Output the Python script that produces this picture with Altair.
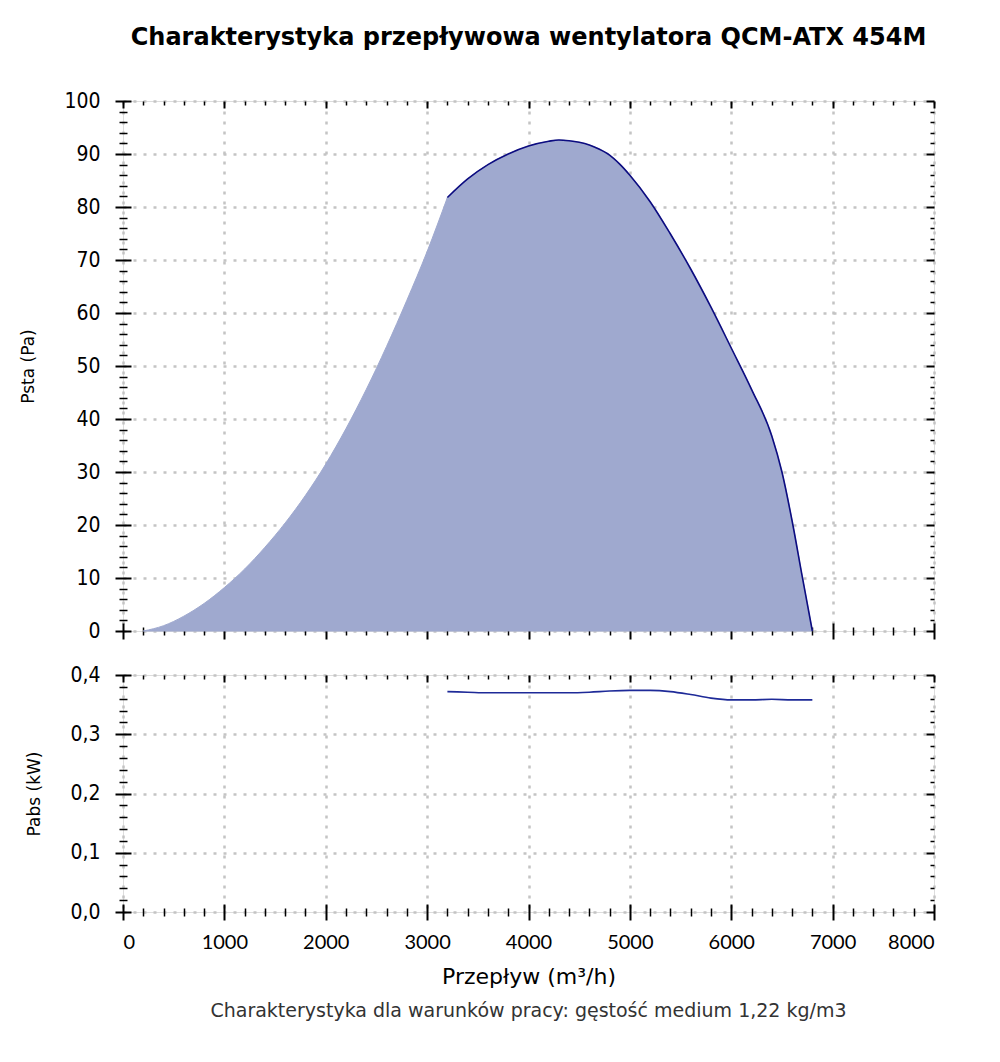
import altair as alt
import pandas as pd

# ---- data ----
flow_rise = [200, 400, 600, 800, 1000, 1200, 1400, 1600, 1800, 2000, 2200, 2400, 2600, 2800, 3000, 3200]
psta_rise = [0.0, 1.0, 2.8, 5.2, 8.2, 11.7, 15.8, 20.4, 25.6, 31.5, 38.2, 45.6, 53.7, 62.4, 71.6, 81.8]

flow_fall = [3200, 3400, 3600, 3800, 4000, 4200, 4300, 4400, 4500, 4600, 4700, 4800, 4900, 5000, 5200,
             5400, 5600, 5800, 6000, 6200, 6400, 6500, 6600, 6700, 6800]
psta_fall = [81.8, 85.3, 88.0, 90.0, 91.5, 92.4, 92.65, 92.5, 92.2, 91.7, 90.9, 89.8, 88.1, 86.0, 81.0,
             74.9, 68.3, 61.1, 53.4, 45.6, 36.8, 30.0, 20.8, 10.3, 0.0]

flow_power = [3200, 3400, 3600, 3800, 4000, 4200, 4400, 4600, 4800, 5000, 5200, 5400, 5600, 5800,
              6000, 6200, 6400, 6600, 6800]
pabs_power = [0.372, 0.371, 0.370, 0.370, 0.370, 0.370, 0.370, 0.371, 0.373, 0.374, 0.374, 0.372,
              0.367, 0.361, 0.358, 0.358, 0.359, 0.358, 0.358]

x_major = [0, 1000, 2000, 3000, 4000, 5000, 6000, 7000, 8000]
x_minor = [v for v in range(0, 8001, 200) if v % 1000]
y1_major = [0, 10, 20, 30, 40, 50, 60, 70, 80, 90, 100]
y1_minor = [v for v in range(0, 101, 2) if v % 10]
y2_major = [0.0, 0.1, 0.2, 0.3, 0.4]
y2_minor = [round(i * 0.02, 2) for i in range(21) if i % 5]

title_text = "Charakterystyka przepływowa wentylatora QCM-ATX 454M"
foot_text = "Charakterystyka dla warunków pracy: gęstość medium 1,22 kg/m3"

# ---- tables ----
area_df = pd.DataFrame({
    "flow": flow_rise + flow_fall,
    "psta": psta_rise + psta_fall,
    "seg": ["a"] * len(flow_rise) + ["b"] * len(flow_fall),
})
line_df = pd.DataFrame({"flow": flow_fall, "psta": psta_fall})
power_df = pd.DataFrame({"flow": flow_power, "pabs": pabs_power})

FILL = "#9fa9cf"
LINE_TOP = "#0c0c80"
LINE_BOT = "#1e2a98"
GRID = "#c4c4c4"
YFONT = "DejaVu Sans Condensed, DejaVu Sans"
XFONT = "Lato"

W = 811
H1 = 530
H2 = 237


def axis(orient, values, size, cross, width, labels=False, grid=False, title=None, **kw):
    offset = -size / 2 if cross else -size
    return alt.Axis(orient=orient, values=values, tickSize=size, offset=offset, domain=False,
                    labels=labels, grid=grid, title=title, tickColor="black", tickWidth=width,
                    gridColor=GRID, gridDash=[3, 7], gridWidth=2.5, **kw)


xscale = alt.Scale(domain=[0, 8000], nice=False, zero=False)
y1scale = alt.Scale(domain=[0, 100], nice=False)
y2scale = alt.Scale(domain=[0, 0.4], nice=False)

ytitle_kw = dict(titleFont="DejaVu Sans", titleFontSize=17, titleFontWeight="normal",
                 titleColor="black", titlePadding=26)
ylabel_kw = dict(labelFont=YFONT, labelFontSize=21, labelPadding=15, labelColor="black")

# ---------- top panel ----------
top_area = alt.Chart(area_df).mark_area(color=FILL, opacity=1, stroke=FILL, strokeWidth=1,
                                        interpolate="monotone").encode(
    x=alt.X("flow:Q", scale=xscale,
            axis=axis("bottom", x_major, 16, True, 2, grid=True)),
    y=alt.Y("psta:Q", scale=y1scale, stack=None,
            axis=axis("left", y1_major, 16, True, 2, labels=True, grid=True, title="Psta (Pa)",
                      **ylabel_kw, **ytitle_kw)),
    detail="seg:N",
)
top_line = alt.Chart(line_df).mark_line(color=LINE_TOP, strokeWidth=1.6, interpolate="monotone").encode(
    x=alt.X("flow:Q", scale=xscale, axis=axis("bottom", x_minor, 8, True, 1.5)),
    y=alt.Y("psta:Q", scale=y1scale, axis=axis("left", y1_minor, 8, True, 1.5)),
)
top_g3 = alt.Chart(line_df).mark_line(opacity=0).encode(
    x=alt.X("flow:Q", scale=xscale, axis=axis("top", x_major, 7, False, 2)),
    y=alt.Y("psta:Q", scale=y1scale, axis=axis("right", y1_major, 8, False, 2)),
)
top_g4 = alt.Chart(line_df).mark_line(opacity=0).encode(
    x=alt.X("flow:Q", scale=xscale, axis=axis("top", x_minor, 4, False, 1.5)),
    y=alt.Y("psta:Q", scale=y1scale, axis=axis("right", y1_minor, 4, False, 1.5)),
)
top = alt.layer(top_area, top_line, top_g3, top_g4).resolve_axis(
    x="independent", y="independent"
).properties(
    width=W, height=H1,
    title=alt.TitleParams(text=title_text, font="DejaVu Sans", fontSize=24, fontWeight="bold",
                          anchor="middle", frame="group", offset=40, color="black"),
)

# ---------- bottom panel ----------
label_expr = "replace(format(datum.value, '.1f'), '.', ',')"
bot_line = alt.Chart(power_df).mark_line(color=LINE_BOT, strokeWidth=1.6, interpolate="monotone").encode(
    x=alt.X("flow:Q", scale=xscale,
            axis=axis("bottom", x_major, 16, True, 2, labels=True, grid=True, title="Przepływ (m³/h)",
                      format="d", labelFont=XFONT, labelFontSize=20, labelPadding=12,
                      labelColor="black",
                      titleFont="DejaVu Sans", titleFontSize=22, titleFontWeight="normal",
                      titleColor="black", titlePadding=14)),
    y=alt.Y("pabs:Q", scale=y2scale,
            axis=axis("left", y2_major, 16, True, 2, labels=True, grid=True, title="Pabs (kW)",
                      labelExpr=label_expr, **ylabel_kw, **ytitle_kw)),
)
bot_g2 = alt.Chart(power_df).mark_line(opacity=0).encode(
    x=alt.X("flow:Q", scale=xscale, axis=axis("bottom", x_minor, 8, True, 1.5)),
    y=alt.Y("pabs:Q", scale=y2scale, axis=axis("left", y2_minor, 8, True, 1.5)),
)
bot_g3 = alt.Chart(power_df).mark_line(opacity=0).encode(
    x=alt.X("flow:Q", scale=xscale, axis=axis("top", x_major, 7, False, 2)),
    y=alt.Y("pabs:Q", scale=y2scale, axis=axis("right", y2_major, 8, False, 2)),
)
bot_g4 = alt.Chart(power_df).mark_line(opacity=0).encode(
    x=alt.X("flow:Q", scale=xscale, axis=axis("top", x_minor, 4, False, 1.5)),
    y=alt.Y("pabs:Q", scale=y2scale, axis=axis("right", y2_minor, 4, False, 1.5)),
)
bottom = alt.layer(bot_line, bot_g2, bot_g3, bot_g4).resolve_axis(
    x="independent", y="independent"
).properties(
    width=W, height=H2,
    title=alt.TitleParams(text=foot_text, orient="bottom", font="DejaVu Sans", fontSize=19,
                          fontWeight="normal", anchor="middle", frame="group", offset=15,
                          color="#333333"),
)

chart = alt.vconcat(top, bottom, spacing=21).properties(
    padding={"top": 17, "left": 11, "right": 10, "bottom": 5}
).configure_view(stroke="black", strokeWidth=2).configure(background="white")

chart.save("out.html", embed_options={"renderer": "svg", "actions": False})
